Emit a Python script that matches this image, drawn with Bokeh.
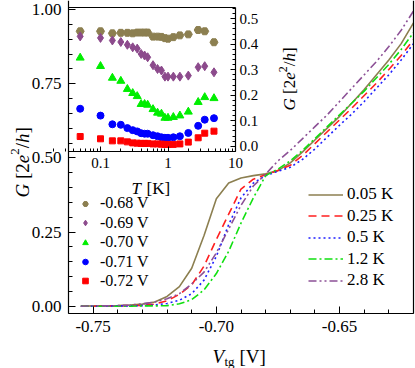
import math
from bokeh.plotting import figure
from bokeh.models import (Range1d, LogScale, LinearAxis, FixedTicker, SingleIntervalTicker,
                          PrintfTickFormatter, CustomJSTickFormatter, Legend, LegendItem, Label)
from bokeh.embed import file_html
from bokeh.resources import INLINE

FONT = "Liberation Serif, Times New Roman, DejaVu Serif, serif"

# ---------------- main panel data: G(V_tg) at several temperatures ----------------
vtg = [-0.755, -0.750, -0.745, -0.740, -0.735, -0.730, -0.725, -0.720, -0.715, -0.710,
       -0.705, -0.700, -0.695, -0.690, -0.685, -0.680, -0.675, -0.670, -0.665, -0.660,
       -0.655, -0.650, -0.645, -0.640, -0.635, -0.630, -0.625, -0.620]
g_t005 = [0.000, 0.001, 0.001, 0.002, 0.004, 0.007, 0.014, 0.033, 0.066, 0.128,
          0.238, 0.362, 0.415, 0.432, 0.440, 0.446, 0.457, 0.483, 0.520, 0.560,
          0.600, 0.640, 0.685, 0.730, 0.780, 0.830, 0.885, 0.955]
g_t025 = [0.000, 0.000, 0.001, 0.001, 0.002, 0.003, 0.007, 0.018, 0.040, 0.072,
          0.135, 0.225, 0.310, 0.395, 0.428, 0.443, 0.457, 0.475, 0.508, 0.548,
          0.588, 0.628, 0.668, 0.710, 0.752, 0.798, 0.845, 0.898]
g_t05 = [0.000, 0.000, 0.000, 0.001, 0.001, 0.002, 0.004, 0.009, 0.020, 0.042,
         0.088, 0.168, 0.275, 0.365, 0.415, 0.440, 0.455, 0.468, 0.495, 0.530,
         0.570, 0.610, 0.648, 0.690, 0.735, 0.780, 0.830, 0.885]
g_t12 = [0.000, 0.000, 0.000, 0.000, 0.000, 0.001, 0.001, 0.002, 0.008, 0.022,
         0.055, 0.110, 0.185, 0.280, 0.365, 0.440, 0.462, 0.490, 0.525, 0.565,
         0.605, 0.645, 0.685, 0.725, 0.770, 0.815, 0.865, 0.922]
g_t28 = [0.000, 0.001, 0.001, 0.002, 0.004, 0.008, 0.014, 0.025, 0.042, 0.075,
         0.115, 0.180, 0.260, 0.340, 0.405, 0.445, 0.490, 0.525, 0.565, 0.605,
         0.645, 0.690, 0.735, 0.780, 0.825, 0.875, 0.930, 0.995]
curve_labels = ["0.05 K", "0.25 K", "0.5 K", "1.2 K", "2.8 K"]

# ---------------- inset data: G(T) at several gate voltages ----------------
temps = [0.05, 0.1, 0.15, 0.2, 0.25, 0.3, 0.35, 0.4, 0.45, 0.5, 0.6, 0.7, 0.8, 0.9,
         1.0, 1.2, 1.5, 2.0, 2.8, 3.5, 4.8]
g_v068 = [0.451, 0.451, 0.443, 0.445, 0.445, 0.443, 0.446, 0.446, 0.446, 0.446, 0.430,
          0.430, 0.429, 0.424, 0.422, 0.428, 0.435, 0.439, 0.456, 0.451, 0.408]
g_v069 = [0.431, 0.425, 0.415, 0.409, 0.398, 0.388, 0.383, 0.362, 0.356, 0.349, 0.318,
          0.303, 0.297, 0.273, 0.273, 0.273, 0.273, 0.277, 0.310, 0.314, 0.290]
g_v070 = [0.347, 0.314, 0.268, 0.256, 0.224, 0.208, 0.196, 0.165, 0.165, 0.162, 0.145,
          0.131, 0.127, 0.111, 0.111, 0.114, 0.120, 0.135, 0.173, 0.192, 0.188]
g_v071 = [0.147, 0.120, 0.086, 0.084, 0.071, 0.063, 0.058, 0.051, 0.049, 0.049, 0.043,
          0.039, 0.035, 0.033, 0.033, 0.035, 0.039, 0.052, 0.080, 0.104, 0.110]
g_v072 = [0.038, 0.029, 0.021, 0.021, 0.017, 0.013, 0.012, 0.011, 0.011, 0.011, 0.009,
          0.009, 0.008, 0.007, 0.007, 0.007, 0.009, 0.016, 0.033, 0.051, 0.059]
inset_labels = ["-0.68 V", "-0.69 V", "-0.70 V", "-0.71 V", "-0.72 V"]

# axis ticks
t_major = [0.1, 1, 10]
t_minor = [m * 10.0 ** e for e in (-2, -1, 0) for m in range(2, 10)]

# ---------------- layout (page pixels); the frame covers the whole canvas ----------------
W, H = 415, 368
FL, FR, FB = 68, 413, 313          # main axes box (left, right, bottom)
X0, X1 = -0.76, -0.62
Y_ZERO, Y_ONE = 305.7, 9.0         # pixel rows of G=0 and G=1
KX = (X1 - X0) / (FR - FL)
KY = 1.0 / (Y_ZERO - Y_ONE)
x_start, x_end = X0 - FL * KX, X1 + (W - FR) * KX
y_start, y_end = -(H - Y_ZERO) * KY, Y_ZERO * KY
Yb = -(FB - Y_ZERO) * KY

# inset mapping: 67.5 px per decade, T=0.1 at x=100 ; G=0 at y=145.7, 0.5 at y=18.3
DEC = 67.5
T_start = 10 ** (-1 - 100 / DEC)
T_end = 10 ** (-1 + (W - 100) / DEC)
T_left = 10 ** (-1 - (100 - FL) / DEC)
S_G = (145.7 - 18.3) / 0.5
Gi_start = -(H - 145.7) / S_G
Gi_end = 145.7 / S_G
Gi_top = (145.7 - 7) / S_G
Gi_bot = -(151 - 145.7) / S_G


def dx(px):
    return x_start + px * KX


def dy(py):
    return y_end - py * KY


p = figure(width=W, height=H, output_backend="svg", toolbar_location=None,
           x_range=Range1d(x_start, x_end), y_range=Range1d(y_start, y_end),
           min_border=0, min_border_left=0, min_border_right=0, min_border_top=0,
           min_border_bottom=0)
p.outline_line_color = None
p.grid.visible = False
p.background_fill_color = "white"
p.border_fill_color = "white"

p.extra_x_ranges = {"T": Range1d(T_start, T_end)}
p.extra_x_scales = {"T": LogScale()}
p.extra_y_ranges = {"Gi": Range1d(Gi_start, Gi_end)}


def style_axis(ax, size="17px", tin=7, mtin=4, standoff=6):
    ax.axis_line_color = "black"
    ax.axis_line_width = 1.2
    ax.major_tick_in = tin
    ax.major_tick_out = 0
    ax.minor_tick_in = mtin
    ax.minor_tick_out = 0
    ax.major_tick_line_color = "black"
    ax.minor_tick_line_color = "black"
    ax.major_label_text_font = FONT
    ax.major_label_text_font_size = size
    ax.major_label_text_color = "black"
    ax.major_label_standoff = standoff


xa = p.xaxis[0]
xa.fixed_location = Yb
xa.bounds = (X0, X1)
xa.ticker = SingleIntervalTicker(interval=0.05, num_minor_ticks=5)
xa.formatter = PrintfTickFormatter(format="%.2f")
style_axis(xa, standoff=7)
ya = p.yaxis[0]
ya.fixed_location = X0
ya.bounds = (Yb, y_end)
ya.ticker = SingleIntervalTicker(interval=0.25, num_minor_ticks=5)
ya.formatter = PrintfTickFormatter(format="%.2f")
style_axis(ya, standoff=7)

# plain right border of the main box
rb = LinearAxis(fixed_location=X1, bounds=(Yb, y_end), ticker=FixedTicker(ticks=[]))
style_axis(rb)
p.add_layout(rb, "right")

# ---------------- main curves ----------------
series = [g_t005, g_t025, g_t05, g_t12, g_t28]
colors = ["#8c7f50", "#ff1f1f", "#1f1fff", "#10e010", "#8c5096"]
dashes = ["solid", "8 5", "2 3", "8 3 2 3", "8 3 2 3 2 3"]
ROW_H = 23
for i, (g, c, d, lab) in enumerate(zip(series, colors, dashes, curve_labels)):
    r = p.line(vtg, g, line_color=c, line_dash=d, line_width=1.6)
    row_center = 194 + 21.5 * i
    leg = Legend(items=[LegendItem(label=lab, renderers=[r])],
                 location=(308, H - row_center - ROW_H / 2), orientation="vertical",
                 glyph_width=35, glyph_height=ROW_H, label_height=ROW_H, spacing=0,
                 padding=0, margin=0, label_standoff=4, label_text_font=FONT,
                 label_text_font_size="17px", label_text_color="black",
                 border_line_color=None, background_fill_alpha=0)
    p.add_layout(leg, "center")

# ---------------- inset ----------------
inset_series = [g_v068, g_v069, g_v070, g_v071, g_v072]
mcolors = ["#8c7f50", "#8c4a8c", "#00ee00", "#0000ff", "#ff0000"]
markers = ["hex", "diamond", "triangle", "circle", "square"]
msizes = [8, 9, 8, 7, 6]
for i, (g, c, m, s, lab) in enumerate(zip(inset_series, mcolors, markers, msizes, inset_labels)):
    r = p.scatter(temps, g, x_range_name="T", y_range_name="Gi", marker=m, size=s,
                  fill_color=c, line_color=c)
    row_center = 203.3 + 19.4 * i
    ileg = Legend(items=[LegendItem(label=lab, renderers=[r])],
                  location=(78, H - row_center - ROW_H / 2), orientation="vertical",
                  glyph_width=14, glyph_height=ROW_H, label_height=ROW_H, spacing=0,
                  padding=0, margin=0, label_standoff=8, label_text_font=FONT,
                  label_text_font_size="16px", label_text_color="black",
                  border_line_color=None, background_fill_alpha=0)
    p.add_layout(ileg, "center")

ax_T = LinearAxis(x_range_name="T", y_range_name="Gi", fixed_location=Gi_bot,
                  bounds=(T_left, 10), ticker=FixedTicker(ticks=t_major, minor_ticks=t_minor),
                  formatter=CustomJSTickFormatter(code="return tick.toString()"))
style_axis(ax_T, size="15px", tin=5, mtin=3, standoff=6)
p.add_layout(ax_T, "below")

ax_G = LinearAxis(x_range_name="T", y_range_name="Gi", fixed_location=10,
                  bounds=(Gi_bot, Gi_top), ticker=SingleIntervalTicker(interval=0.1, num_minor_ticks=5),
                  formatter=PrintfTickFormatter(format="%.1f"))
style_axis(ax_G, size="15px", tin=5, mtin=3, standoff=4)
p.add_layout(ax_G, "right")

ax_top = LinearAxis(x_range_name="T", y_range_name="Gi", fixed_location=Gi_top,
                    bounds=(T_left, 10), ticker=FixedTicker(ticks=[]))
style_axis(ax_top)
p.add_layout(ax_top, "above")


# ---------------- axis titles with italic / sub / superscript pieces ----------------
def txt(t, px, py, size, style="normal", angle=0.0):
    p.add_layout(Label(x=dx(px), y=dy(py), text=t, text_font=FONT,
                       text_font_size=f"{size}px", text_font_style=style, angle=angle,
                       angle_units="rad", text_align="left", text_baseline="alphabetic",
                       text_color="black"))


# x label: V_tg [V]
txt("V", 212, 356, 19, "italic")
txt("tg", 224, 361, 13)
txt("[V]", 239, 356, 19)

# main y label: G [2e^2/h], rotated
R = math.pi / 2
bx = 22
txt("G", bx, 197, 19, "italic", R)
txt("[2", bx, 178.5, 19, "normal", R)
txt("e", bx, 162.7, 19, "italic", R)
txt("2", bx - 8, 154.3, 13, "normal", R)
txt("/", bx, 147.8, 19, "normal", R)
txt("h", bx, 142.5, 19, "italic", R)
txt("]", bx, 133, 19, "normal", R)

# inset x label: T [K]
txt("T", 131, 188, 17, "italic")
txt("[K]", 146, 188, 17)

# inset y label (right): G [2e^2/h], rotated
bx2 = 289
txt("G", bx2, 110, 17, "italic", R)
txt("[2", bx2, 93.5, 17, "normal", R)
txt("e", bx2, 79.3, 17, "italic", R)
txt("2", bx2 - 7, 71.8, 12, "normal", R)
txt("/", bx2, 65.8, 17, "normal", R)
txt("h", bx2, 61.1, 17, "italic", R)
txt("]", bx2, 52.6, 17, "normal", R)

open("out.html", "w").write(file_html(p, INLINE))
